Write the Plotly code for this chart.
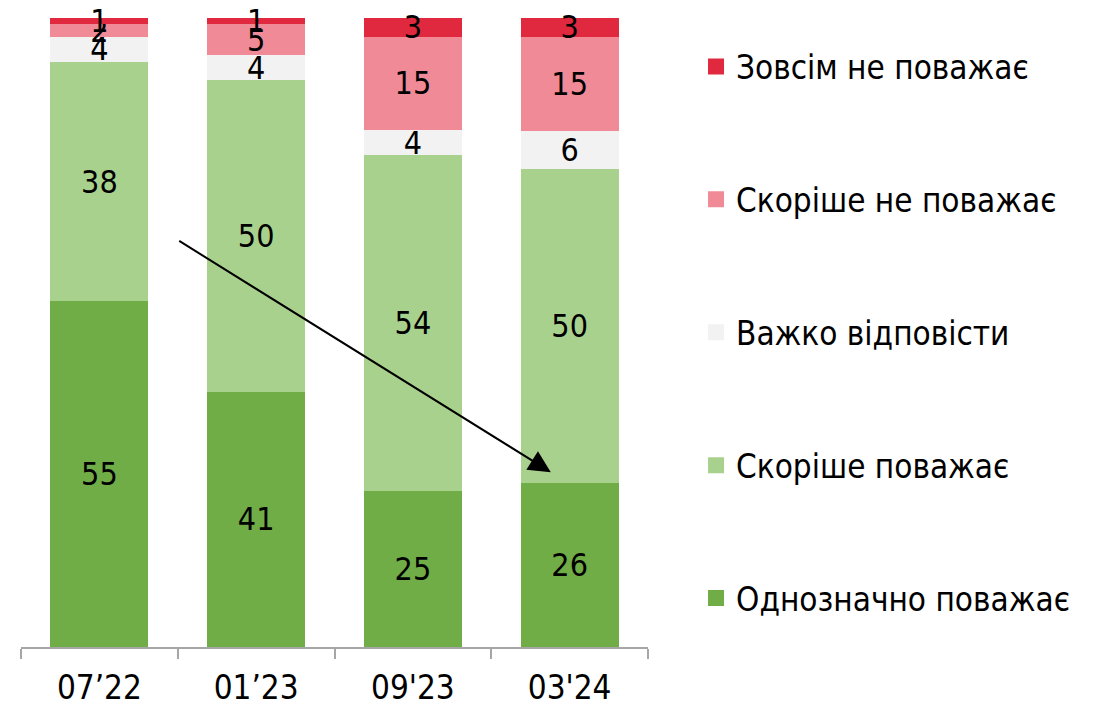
import plotly.graph_objects as go

categories = ["07’22", "01’23", "09'23", "03'24"]
series_names = [
    "Однозначно поважає",
    "Скоріше поважає",
    "Важко відповісти",
    "Скоріше не поважає",
    "Зовсім не поважає",
]
definitely_respect = [55, 41, 25, 26]
rather_respect = [38, 50, 54, 50]
hard_to_say = [4, 4, 4, 6]
rather_not_respect = [2, 5, 15, 15]
not_at_all = [1, 1, 3, 3]
series_values = [definitely_respect, rather_respect, hard_to_say, rather_not_respect, not_at_all]
colors = ["#70AD47", "#A9D18E", "#F2F2F2", "#F08A96", "#E0283F"]

# trend arrow (start / end, in axis units: category index, percent)
arrow_start = (0.50, 64.7)
arrow_end = (2.88, 27.8)

FONT = "DejaVu Sans Condensed, Liberation Sans Narrow, Arial Narrow, Liberation Sans, sans-serif"

fig = go.Figure()
n = len(series_names)
for i, (name, vals, col) in enumerate(zip(series_names, series_values, colors)):
    fig.add_trace(go.Bar(
        x=categories, y=vals, name=name, marker=dict(color=col, line=dict(width=0)),
        text=[str(v) for v in vals], textposition="inside", insidetextanchor="middle",
        constraintext="none", textangle=0, cliponaxis=False,
        textfont=dict(family=FONT, size=32, color="black"),
        showlegend=False, hoverinfo="skip",
    ))
# legend entries with larger square swatches
for i, (name, col) in enumerate(zip(series_names, colors)):
    fig.add_trace(go.Scatter(
        x=[None], y=[None], mode="markers", name=name,
        marker=dict(symbol="square", size=17, color=col, line=dict(width=0)),
        legendgroup=f"g{i}", legendrank=100 * (n - i), hoverinfo="skip",
    ))

fig.add_annotation(
    x=arrow_end[0], y=arrow_end[1], ax=arrow_start[0], ay=arrow_start[1],
    xref="x", yref="y", axref="x", ayref="y",
    showarrow=True, arrowhead=2, arrowsize=2.2, arrowwidth=2, arrowcolor="black", text="",
)

fig.update_layout(
    width=1088, height=702,
    margin=dict(l=13, r=448, t=10, b=63, autoexpand=False),
    barmode="stack", barnorm="percent", bargap=0.375,
    plot_bgcolor="white", paper_bgcolor="white",
    font=dict(family=FONT, size=33, color="black"),
    showlegend=True,
    legend=dict(
        x=1.0766, xanchor="left", y=0.5, yanchor="middle",
        traceorder="grouped", tracegroupgap=87,
        font=dict(family=FONT, size=33, color="black"),
        itemclick=False, itemdoubleclick=False, itemsizing="trace",
    ),
    xaxis=dict(
        type="category", categoryorder="array", categoryarray=categories,
        range=[-0.5, 3.5], showgrid=False, zeroline=False, automargin=False,
        showline=True, linecolor="#A6A6A6", linewidth=1.5,
        ticks="outside", tickson="boundaries", ticklen=10, tickcolor="#A6A6A6", tickwidth=1.5,
        tickfont=dict(family=FONT, size=33, color="black"), ticklabelstandoff=11,
    ),
    yaxis=dict(range=[0, 100], visible=False, showgrid=False, zeroline=False, automargin=False),
)

fig.write_html("out.html")
